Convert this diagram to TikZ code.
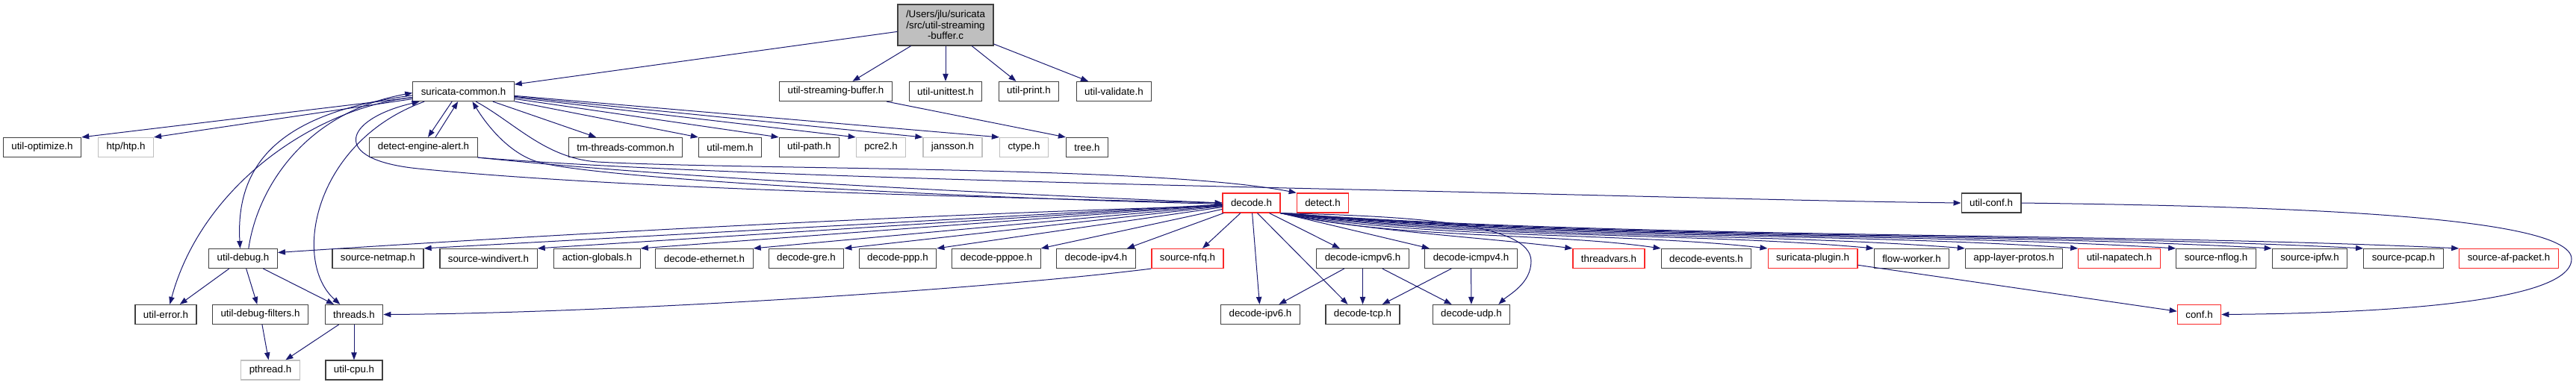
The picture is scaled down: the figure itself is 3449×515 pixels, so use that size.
\documentclass[tikz,border=0pt]{standalone}
\usepackage{fontspec}
\setmainfont{Liberation Sans}
\usetikzlibrary{arrows.meta}

\definecolor{edgeblue}{RGB}{25,25,112}
\definecolor{nodegrey}{RGB}{191,191,191}
\definecolor{boxred}{RGB}{250,40,40}

\begin{document}
\begin{tikzpicture}[
  x=0.75pt, y=-0.75pt,
  font=\fontsize{10}{11}\selectfont,
  >={Triangle[length=7.5pt,width=5.5pt]},
  hdr/.style={draw=black!75,line width=0.9pt,fill=white,inner xsep=8.25pt,
              inner ysep=0pt,minimum height=19.5pt},
  trunc/.style={hdr,draw=boxred},
  sys/.style={hdr,draw=nodegrey},
  srcfile/.style={hdr,fill=nodegrey,align=center,minimum height=41.25pt},
  dep/.style={->,draw=edgeblue,line width=0.75pt},
]
\useasboundingbox (0,0) rectangle (3449,515);

% the file itself
\node[srcfile] (main) at (1266,33.5)
     {/Users/jlu/suricata\\/src/util-streaming\\-buffer.c};

% what it includes
\node[hdr] (sc)       at (620.5,122.5)  {suricata-common.h};
\node[hdr] (usb)      at (1119,122.5)   {util-streaming-buffer.h};
\node[hdr] (unittest) at (1266,122.5)   {util-unittest.h};
\node[hdr] (print)    at (1377.5,122.5) {util-print.h};
\node[hdr] (validate) at (1491.5,122.5) {util-validate.h};

% second row
\node[hdr] (optimize)  at (56.5,197.5)   {util-optimize.h};
\node[sys] (htp)       at (168.5,197.5)  {htp/htp.h};
\node[hdr] (dea)       at (567,197.5)    {detect-engine-alert.h};
\node[hdr] (tmthreads) at (837.5,197.5)  {tm-threads-common.h};
\node[hdr] (mem)       at (977.5,197.5)  {util-mem.h};
\node[hdr] (path)      at (1083.5,197.5) {util-path.h};
\node[sys] (pcre)      at (1179.5,197.5) {pcre2.h};
\node[sys] (jansson)   at (1275.5,197.5) {jansson.h};
\node[sys] (ctype)     at (1371,197.5)   {ctype.h};
\node[hdr] (tree)      at (1455.5,197.5) {tree.h};

% decode.h row
\node[trunc] (decode)   at (1675.5,272) {decode.h};
\node[trunc] (detect)   at (1771,272)   {detect.h};
\node[hdr]   (utilconf) at (2666,272)   {util-conf.h};

% everything decode.h pulls in
\node[hdr]   (udebug)    at (325.5,346.5)  {util-debug.h};
\node[hdr]   (netmap)    at (506,346.5)    {source-netmap.h};
\node[hdr]   (windivert) at (654,346.5)    {source-windivert.h};
\node[hdr]   (actglob)   at (799.5,346.5)  {action-globals.h};
\node[hdr]   (ether)     at (943,346.5)    {decode-ethernet.h};
\node[hdr]   (gre)       at (1079.5,346.5) {decode-gre.h};
\node[hdr]   (ppp)       at (1202,346.5)   {decode-ppp.h};
\node[hdr]   (pppoe)     at (1334,346.5)   {decode-pppoe.h};
\node[hdr]   (ipv4)      at (1467.5,346.5) {decode-ipv4.h};
\node[trunc] (nfq)       at (1590,346.5)   {source-nfq.h};
\node[hdr]   (icmpv6)    at (1824.5,346.5) {decode-icmpv6.h};
\node[hdr]   (icmpv4)    at (1969.5,346.5) {decode-icmpv4.h};
\node[trunc] (tvars)     at (2154,346.5)   {threadvars.h};
\node[hdr]   (events)    at (2284.5,346.5) {decode-events.h};
\node[trunc] (plugin)    at (2427,346.5)   {suricata-plugin.h};
\node[hdr]   (fworker)   at (2559.5,346.5) {flow-worker.h};
\node[hdr]   (alproto)   at (2696.5,346.5) {app-layer-protos.h};
\node[trunc] (napatech)  at (2837.5,346.5) {util-napatech.h};
\node[hdr]   (nflog)     at (2967,346.5)   {source-nflog.h};
\node[hdr]   (ipfw)      at (3092.5,346.5) {source-ipfw.h};
\node[hdr]   (pcap)      at (3218,346.5)   {source-pcap.h};
\node[trunc] (afpacket)  at (3359,346.5)   {source-af-packet.h};

% lower rows
\node[hdr]   (uerror)   at (222,421.5)    {util-error.h};
\node[hdr]   (dfilters) at (348.5,421.5)  {util-debug-filters.h};
\node[hdr]   (threads)  at (474,421.5)    {threads.h};
\node[hdr]   (ipv6)     at (1687.5,421.5) {decode-ipv6.h};
\node[hdr]   (tcp)      at (1824.5,421.5) {decode-tcp.h};
\node[hdr]   (udp)      at (1970,421.5)   {decode-udp.h};
\node[trunc] (conf)     at (2944.5,421.5) {conf.h};
\node[sys]   (pthread)  at (362,496)      {pthread.h};
\node[hdr]   (cpu)      at (474,496)      {util-cpu.h};

% from the .c file
\draw[dep] (main) -- (sc);
\draw[dep] (main) -- (usb);
\draw[dep] (main) -- (unittest);
\draw[dep] (main) -- (print);
\draw[dep] (main) -- (validate);
\draw[dep] (usb) -- (tree.north west);

% suricata-common.h
\draw[dep] (sc) -- (optimize.north east);
\draw[dep] (sc) -- (htp.north east);
\draw[dep] (sc) -- (tmthreads);
\draw[dep] (sc) -- (mem.north west);
\draw[dep] (sc) -- (path.north west);
\draw[dep] (sc) -- (pcre.north west);
\draw[dep] (sc) -- (jansson.north west);
\draw[dep] (sc) -- (ctype.north west);
\draw[dep] ([xshift=-11.5pt]sc.south) -- ([xshift=4.5pt]dea.north);
\draw[dep] ([xshift=12pt]dea.north) -- ([xshift=-5.5pt]sc.south);
\draw[dep] ([yshift=-4pt]sc.west) .. controls (380,150) and (315,215)
      .. ([xshift=-3pt]udebug.north);
\draw[dep] ([xshift=5.5pt]udebug.north) .. controls (345,250) and (410,150)
      .. ([yshift=-1.5pt]sc.west);
\draw[dep] ([yshift=-6pt]sc.west) .. controls (420,145) and (270,250)
      .. ([xshift=4pt]uerror.north);
\draw[dep] ([xshift=12pt]sc.south west) .. controls (420,190) and (390,350)
      .. ([xshift=-14pt]threads.north);
\draw[dep] ([xshift=12.5pt]sc.south) .. controls (690,165) and (730,212)
      .. (800,217) .. controls (1000,228) and (1550,222) .. (detect.north west);

% detect-engine-alert.h
\draw[dep] (dea.south east) .. controls (900,232) and (1400,245)
      .. (1900,256) .. controls (2200,263) and (2450,270) .. (utilconf.west);
\draw[dep] (dea.south east) .. controls (900,238) and (1300,258) .. (decode.west);

% back up to suricata-common.h
\draw[dep] (decode.west) .. controls (1200,262) and (800,250)
      .. (560,226) .. controls (440,214) and (460,160) .. ([xshift=7pt]sc.south west);
\draw[dep] ([yshift=-1pt]decode.west) .. controls (1300,266) and (800,240)
      .. (720,217) .. controls (680,205) and (650,165) .. ([xshift=9pt]sc.south);

% decode.h, to the left
\draw[dep] ([yshift=-3pt]decode.west) .. controls (1300,285) and (800,310)
      .. ([yshift=6pt]udebug.east);
\draw[dep] (decode) -- (netmap.north east);
\draw[dep] (decode) -- (windivert.north east);
\draw[dep] (decode) -- (actglob.north east);
\draw[dep] (decode) -- (ether.north east);
\draw[dep] (decode) -- (gre.north east);
\draw[dep] (decode) -- (ppp.north east);
\draw[dep] (decode) -- (pppoe.north east);
\draw[dep] (decode) -- ([xshift=-9pt]ipv4.north east);
\draw[dep] (decode) -- ([xshift=15pt]nfq.north);

% decode.h, straight down
\draw[dep] (decode) -- (ipv6);
\draw[dep] ([xshift=6pt]decode.south) -- ([xshift=-15pt]tcp.north);
\draw[dep] ([xshift=18pt]decode.south) -- ([xshift=-23pt]icmpv6.north);
\draw[dep] (decode.south east) -- ([xshift=5pt]icmpv4.north west);
\draw[dep] (decode.south east) .. controls (1900,290) and (2050,300)
      .. (2050,350) .. controls (2050,380) and (2020,395) .. ([xshift=-12pt]udp.north east);

% decode.h, to the right
\draw[dep] (decode.south east) .. controls +(120,25) and +(-120,-15) .. (tvars.north west);
\draw[dep] (decode.south east) .. controls +(154,35) and +(-154,-22) .. (events.north west);
\draw[dep] (decode.south east) .. controls +(196,35) and +(-196,-22) .. (plugin.north west);
\draw[dep] (decode.south east) .. controls +(239,35) and +(-239,-22) .. (fworker.north west);
\draw[dep] (decode.south east) .. controls +(276,35) and +(-276,-22) .. (alproto.north west);
\draw[dep] (decode.south east) .. controls +(321,35) and +(-321,-22) .. (napatech.north west);
\draw[dep] (decode.south east) .. controls +(361,35) and +(-361,-22) .. (nflog.north west);
\draw[dep] (decode.south east) .. controls +(399,35) and +(-399,-22) .. (ipfw.north west);
\draw[dep] (decode.south east) .. controls +(436,35) and +(-436,-22) .. (pcap.north west);
\draw[dep] (decode.south east) .. controls +(474,35) and +(-474,-22) .. (afpacket.north west);

% second level includes
\draw[dep] (nfq.south west) .. controls (1300,390) and (800,420) .. (threads.east);
\draw[dep] (udebug) -- (uerror);
\draw[dep] (udebug) -- (dfilters);
\draw[dep] (udebug) -- (threads);
\draw[dep] (dfilters) -- (pthread);
\draw[dep] (threads) -- (pthread);
\draw[dep] (threads) -- (cpu);
\draw[dep] (icmpv6) -- (ipv6);
\draw[dep] (icmpv6) -- (tcp);
\draw[dep] (icmpv6) -- (udp);
\draw[dep] (icmpv4) -- (tcp);
\draw[dep] (icmpv4) -- (udp);
\draw[dep] (plugin) -- (conf);
\draw[dep] (utilconf.east) .. controls (3000,276) and (3443,285)
      .. (3443,347) .. controls (3443,410) and (3150,420) .. (conf.east);

\end{tikzpicture}
\end{document}
